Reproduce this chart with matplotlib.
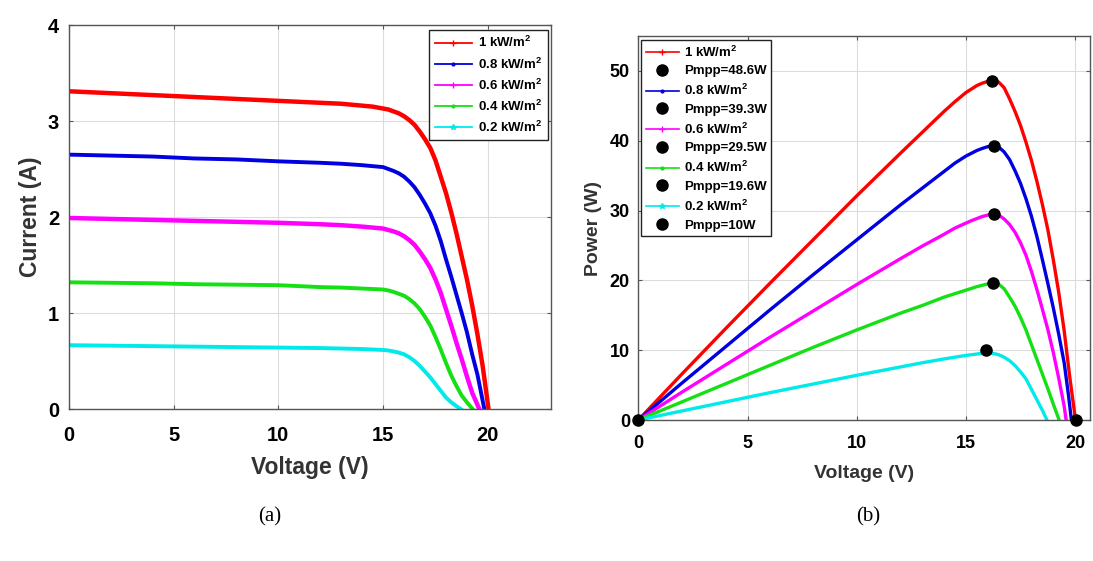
import matplotlib.pyplot as plt
from matplotlib.lines import Line2D

plt.rcParams['font.family'] = 'Liberation Sans'
plt.rcParams['font.weight'] = 'bold'
plt.rcParams['axes.labelweight'] = 'bold'
plt.rcParams['mathtext.fontset'] = 'custom'
plt.rcParams['mathtext.rm'] = 'Liberation Sans:bold'
plt.rcParams['mathtext.default'] = 'rm'

# irradiance levels
labels = ['1 kW/m$^2$', '0.8 kW/m$^2$', '0.6 kW/m$^2$', '0.4 kW/m$^2$', '0.2 kW/m$^2$']
colors = ['#ff0000', '#0000e0', '#ff00ff', '#14e014', '#00eaea']
markers = ['+', '.', '+', '.', '*']

# I-V characteristics (V, A)
v_i1000 = [0, 2, 4, 6, 8, 10, 12, 13, 14, 14.5, 15, 15.25, 15.5, 15.75, 16, 16.25, 16.5, 16.75, 17, 17.25, 17.5, 17.75, 18, 18.25, 18.5, 18.75, 19, 19.25, 19.5, 19.75, 20.03]
i_1000 = [3.31, 3.29, 3.27, 3.25, 3.23, 3.21, 3.19, 3.18, 3.16, 3.15, 3.13, 3.12, 3.10, 3.08, 3.05, 3.01, 2.96, 2.89, 2.81, 2.72, 2.59, 2.42, 2.25, 2.05, 1.83, 1.59, 1.35, 1.08, 0.78, 0.45, 0.0]
v_i800 = [0, 2, 4, 6, 8, 10, 12, 13, 14, 14.5, 15, 15.25, 15.5, 15.75, 16, 16.25, 16.5, 16.75, 17, 17.25, 17.5, 17.75, 18, 18.25, 18.5, 18.75, 19, 19.25, 19.5, 19.83]
i_800 = [2.65, 2.64, 2.63, 2.61, 2.60, 2.58, 2.565, 2.555, 2.54, 2.53, 2.52, 2.50, 2.48, 2.455, 2.42, 2.37, 2.31, 2.23, 2.14, 2.04, 1.91, 1.75, 1.56, 1.38, 1.19, 1.00, 0.80, 0.57, 0.36, 0.0]
v_i600 = [0, 2, 4, 6, 8, 10, 12, 13, 14, 14.5, 15, 15.25, 15.5, 15.75, 16, 16.25, 16.5, 16.75, 17, 17.25, 17.5, 17.75, 18, 18.25, 18.5, 18.75, 19, 19.25, 19.59]
i_600 = [1.99, 1.98, 1.97, 1.96, 1.95, 1.94, 1.925, 1.915, 1.90, 1.89, 1.88, 1.865, 1.85, 1.83, 1.80, 1.76, 1.71, 1.64, 1.56, 1.47, 1.35, 1.21, 1.04, 0.87, 0.69, 0.52, 0.34, 0.17, 0.0]
v_i400 = [0, 2, 4, 6, 8, 10, 12, 13, 14, 14.5, 15, 15.25, 15.5, 15.75, 16, 16.25, 16.5, 16.75, 17, 17.25, 17.5, 17.75, 18, 18.25, 18.5, 18.75, 19, 19.27]
i_400 = [1.32, 1.315, 1.31, 1.30, 1.295, 1.29, 1.27, 1.265, 1.255, 1.25, 1.245, 1.235, 1.22, 1.20, 1.18, 1.145, 1.10, 1.04, 0.96, 0.87, 0.75, 0.62, 0.48, 0.35, 0.24, 0.14, 0.07, 0.0]
v_i200 = [0, 2, 4, 6, 8, 10, 12, 13, 14, 14.5, 15, 15.25, 15.5, 15.75, 16, 16.25, 16.5, 16.75, 17, 17.25, 17.5, 17.75, 18, 18.25, 18.5, 18.71]
i_200 = [0.665, 0.66, 0.655, 0.65, 0.645, 0.64, 0.635, 0.63, 0.625, 0.62, 0.615, 0.61, 0.60, 0.588, 0.57, 0.54, 0.50, 0.45, 0.39, 0.33, 0.26, 0.19, 0.12, 0.07, 0.03, 0.0]

# P-V characteristics (V, W)
v_p1000 = [0, 2, 4, 6, 8, 10, 12, 13, 14, 14.5, 15, 15.25, 15.5, 15.75, 16, 16.25, 16.5, 16.75, 17, 17.25, 17.5, 17.75, 18, 18.25, 18.5, 18.75, 19, 19.25, 19.5, 19.75, 20.02]
p_1000 = [0, 6.6, 13.1, 19.5, 25.8, 32.1, 38.2, 41.2, 44.2, 45.6, 46.9, 47.4, 47.9, 48.25, 48.5, 48.6, 48.4, 47.6, 46.0, 44.2, 42.2, 39.8, 37.2, 34.2, 30.9, 27.3, 23.0, 18.3, 12.8, 6.3, 0]
v_p800 = [0, 2, 4, 6, 8, 10, 12, 13, 14, 14.5, 15, 15.25, 15.5, 15.75, 16, 16.25, 16.5, 16.75, 17, 17.25, 17.5, 17.75, 18, 18.25, 18.5, 18.75, 19, 19.25, 19.5, 19.7, 19.83]
p_800 = [0, 5.3, 10.5, 15.7, 20.8, 25.8, 30.8, 33.2, 35.6, 36.8, 37.8, 38.2, 38.6, 38.9, 39.15, 39.3, 39.1, 38.4, 37.3, 35.7, 33.9, 31.7, 29.2, 26.3, 23.0, 19.6, 16.1, 12.3, 8.2, 3.5, 0]
v_p600 = [0, 2, 4, 6, 8, 10, 12, 13, 14, 14.5, 15, 15.25, 15.5, 15.75, 16, 16.25, 16.5, 16.75, 17, 17.25, 17.5, 17.75, 18, 18.25, 18.5, 18.75, 19, 19.25, 19.5, 19.59]
p_600 = [0, 4.0, 7.9, 11.8, 15.6, 19.4, 23.1, 24.9, 26.6, 27.5, 28.2, 28.55, 28.85, 29.15, 29.35, 29.5, 29.35, 28.8, 28.0, 26.9, 25.4, 23.6, 21.3, 18.7, 15.9, 13.0, 9.7, 6.0, 2.0, 0]
v_p400 = [0, 2, 4, 6, 8, 10, 12, 13, 14, 14.5, 15, 15.25, 15.5, 15.75, 16, 16.25, 16.5, 16.75, 17, 17.25, 17.5, 17.75, 18, 18.25, 18.5, 18.75, 19, 19.27]
p_400 = [0, 2.6, 5.2, 7.8, 10.4, 12.9, 15.3, 16.4, 17.6, 18.1, 18.6, 18.85, 19.1, 19.3, 19.5, 19.6, 19.45, 18.8, 17.6, 16.3, 14.7, 12.9, 10.8, 8.7, 6.6, 4.5, 2.3, 0]
v_p200 = [0, 2, 4, 6, 8, 10, 12, 13, 14, 14.5, 15, 15.25, 15.5, 15.75, 16, 16.25, 16.5, 16.75, 17, 17.25, 17.5, 17.75, 18, 18.25, 18.5, 18.71]
p_200 = [0, 1.3, 2.6, 3.9, 5.15, 6.4, 7.6, 8.2, 8.75, 9.0, 9.25, 9.35, 9.45, 9.55, 9.6, 9.55, 9.35, 9.0, 8.5, 7.8, 6.9, 5.9, 4.4, 2.9, 1.4, 0]

# maximum power points
v_mpp = [16.2, 16.27, 16.3, 16.24, 15.93]
p_mpp = [48.6, 39.3, 29.5, 19.6, 10]
# short-circuit / open-circuit points
v_ends = [0, 20.02]
p_ends = [0, 0]

iv = [(v_i1000, i_1000), (v_i800, i_800), (v_i600, i_600), (v_i400, i_400), (v_i200, i_200)]
pv = [(v_p1000, p_1000), (v_p800, p_800), (v_p600, p_600), (v_p400, p_400), (v_p200, p_200)]

fig = plt.figure(figsize=(10.93, 5.61), dpi=100)
ax1 = fig.add_axes([0.0629, 0.2709, 0.441, 0.6845])
ax2 = fig.add_axes([0.584, 0.2513, 0.4136, 0.6845])


def style(ax):
    ax.grid(True, color='#dcdcdc', lw=0.8)
    ax.set_axisbelow(True)
    for s in ax.spines.values():
        s.set_color('#555555')
        s.set_linewidth(1.0)
    ax.tick_params(direction='in', length=3, width=0.8, color='#555555',
                   top=True, right=True)


# (a) current vs voltage
for (v, i), c, w in zip(iv, colors, [3.2, 2.8, 3.2, 2.8, 2.8]):
    ax1.plot(v, i, color=c, lw=w, solid_joinstyle='round')
ax1.set_xlim(0, 23)
ax1.set_ylim(0, 4)
ax1.set_xticks([0, 5, 10, 15, 20])
ax1.set_yticks([0, 1, 2, 3, 4])
style(ax1)
ax1.tick_params(labelsize=14.5, pad=7)
ax1.tick_params(axis='x', pad=12)
ax1.set_xlabel('Voltage (V)', fontsize=16.5, color='#333333', labelpad=8)
ax1.set_ylabel('Current (A)', fontsize=16.5, color='#333333', labelpad=4)
h1 = [Line2D([], [], color=c, lw=1.3, marker=m, ms=4) for c, m in zip(colors, markers)]
leg1 = ax1.legend(h1, labels, loc='upper right', bbox_to_anchor=(0.994, 0.987),
                  borderaxespad=0, fontsize=9.5, handlelength=2.8, labelspacing=0.45,
                  handletextpad=0.5, borderpad=0.4, fancybox=False, framealpha=1,
                  edgecolor='#222222', numpoints=1)
leg1.get_frame().set_linewidth(1.0)

# (b) power vs voltage
for (v, p), c in zip(pv, colors):
    ax2.plot(v, p, color=c, lw=2.4, solid_joinstyle='round')
ax2.plot(v_mpp, p_mpp, ls='none', marker='o', color='k', ms=8, zorder=5)
ax2.plot(v_ends, p_ends, ls='none', marker='o', color='k', ms=8, zorder=5, clip_on=False)
ax2.set_xlim(0, 20.7)
ax2.set_ylim(0, 55)
ax2.set_xticks([0, 5, 10, 15, 20])
ax2.set_yticks([0, 10, 20, 30, 40, 50])
style(ax2)
ax2.tick_params(labelsize=13, pad=6)
ax2.tick_params(axis='x', pad=11)
ax2.set_xlabel('Voltage (V)', fontsize=14, color='#333333', labelpad=9)
ax2.set_ylabel('Power (W)', fontsize=14, color='#333333', labelpad=6)

h2, l2 = [], []
for c, m, lab, p in zip(colors, markers, labels, p_mpp):
    h2.append(Line2D([], [], color=c, lw=1.2, marker=m, ms=4))
    l2.append(lab)
    h2.append(Line2D([], [], ls='none', marker='o', color='k', ms=8))
    l2.append(f'Pmpp={p:g}W')
leg2 = ax2.legend(h2, l2, loc='upper left', bbox_to_anchor=(0.006, 0.99),
                  borderaxespad=0, fontsize=9.5, handlelength=2.5, labelspacing=0.42,
                  handletextpad=0.4, borderpad=0.35, fancybox=False, framealpha=1,
                  edgecolor='#222222', numpoints=1)
leg2.get_frame().set_linewidth(1.0)

fig.text(270 / 1093, 1 - 517 / 561, '(a)', family='Liberation Serif', weight='normal',
         fontsize=15, ha='center', va='center')
fig.text(868 / 1093, 1 - 517 / 561, '(b)', family='Liberation Serif', weight='normal',
         fontsize=15, ha='center', va='center')

fig.savefig('out.png', dpi=100)
